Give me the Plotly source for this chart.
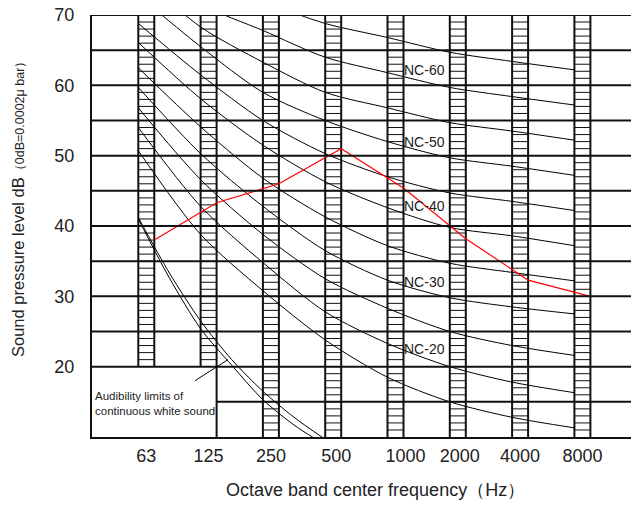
import plotly.graph_objects as go

# ---------------- data ----------------
bands = ["63", "125", "250", "500", "1000", "2000", "4000", "8000"]

# NC curve levels (dB) read at the left edge of each octave-band column
nc15 = [50.7, 38.8, 30.8, 23.8, 18.5, 15.0, 12.8, 11.3]
nc20 = [54.0, 42.8, 34.8, 27.8, 23.3, 20.0, 17.8, 16.3]
nc25 = [56.8, 46.6, 38.8, 32.5, 28.3, 25.0, 23.0, 21.6]
nc30 = [59.7, 50.3, 42.8, 36.5, 32.3, 29.8, 28.5, 27.5]
nc35 = [62.5, 54.1, 46.8, 41.3, 37.2, 34.7, 33.4, 32.2]
nc40 = [66.1, 58.1, 51.5, 46.3, 42.6, 39.8, 38.6, 37.2]
nc45 = [68.8, 61.5, 55.0, 50.3, 47.0, 44.7, 43.5, 42.2]
nc50 = [72.8, 65.5, 59.0, 55.0, 52.0, 49.7, 48.5, 47.2]
nc55 = [75.8, 68.3, 63.3, 59.0, 56.8, 54.7, 53.5, 52.2]
nc60 = [78.5, 71.6, 67.8, 64.0, 61.8, 59.7, 58.4, 57.2]
nc65 = [81.3, 76.3, 72.0, 68.8, 66.8, 64.7, 63.4, 62.2]

nc_label_text = ["NC-60", "NC-50", "NC-40", "NC-30", "NC-20"]
nc_label_level = [62.2, 52.0, 42.8, 32.0, 22.5]

# measured spectrum (red), one value per band
measured = [38.0, 43.3, 46.0, 51.0, 45.4, 38.2, 32.3, 30.0]

# audibility limits of continuous white sound (band position, dB)
aud_upper_pos = [0.0, 0.5, 1.0, 1.5, 2.0, 2.5, 2.97]
aud_upper = [41.2, 33.3, 26.5, 21.0, 16.5, 12.8, 9.85]
aud_lower_pos = [0.0, 0.5, 1.0, 1.5, 2.0, 2.5, 2.82]
aud_lower = [41.0, 32.6, 25.4, 20.2, 15.3, 11.7, 9.85]

y_ticks = [20, 30, 40, 50, 60, 70]

# ---------------- layout geometry ----------------
W, H = 631, 506
ML, MR, MT, MB = 92, 0, 15, 69
PX_PER_BAND = 62.3
FIRST_COL_PX = 138.3
COL_W = 16.0 / PX_PER_BAND
x_lo = -(FIRST_COL_PX - ML) / PX_PER_BAND
x_hi = x_lo + (W - ML - MR) / PX_PER_BAND
Y_LO, Y_HI = 10, 70
col_bottom = [20, 20, 10, 10, 10, 10, 10, 10]
tick_nudge_px = [0, 0, 0, 3, 10, 2, 0, 0]
INK = "#111111"
FONT = "Arial, Liberation Sans, sans-serif"

fig = go.Figure()

# hatched columns
hx, hy, bx, by = [], [], [], []
for i in range(len(bands)):
    for lvl in range(col_bottom[i] + 1, Y_HI):
        hx += [i, i + COL_W, None]
        hy += [lvl, lvl, None]
    for edge in (i, i + COL_W):
        bx += [edge, edge, None]
        by += [col_bottom[i], Y_HI, None]
fig.add_trace(go.Scatter(x=hx, y=hy, mode="lines", line=dict(color=INK, width=1),
                         hoverinfo="skip", showlegend=False))
fig.add_trace(go.Scatter(x=bx, y=by, mode="lines", line=dict(color=INK, width=2),
                         hoverinfo="skip", showlegend=False))

# NC curves
band_pos = list(range(len(bands)))
for curve in [nc15, nc20, nc25, nc30, nc35, nc40, nc45, nc50, nc55, nc60, nc65]:
    fig.add_trace(go.Scatter(x=band_pos, y=curve, mode="lines",
                             line=dict(color="black", width=1, shape="spline", smoothing=0.8),
                             hoverinfo="skip", showlegend=False))

# audibility limits
for px_, vals in [(aud_upper_pos, aud_upper), (aud_lower_pos, aud_lower)]:
    fig.add_trace(go.Scatter(x=px_, y=vals, mode="lines",
                             line=dict(color="black", width=1, shape="spline", smoothing=0.8),
                             hoverinfo="skip", showlegend=False))

# measured spectrum
fig.add_trace(go.Scatter(x=[i + COL_W for i in band_pos], y=measured, mode="lines",
                         line=dict(color="#ff0000", width=1.2),
                         hoverinfo="skip", showlegend=False))

# grid lines
shapes = []
for lvl in range(20, 71, 5):
    shapes.append(dict(type="line", xref="paper", yref="y", x0=0, x1=1, y0=lvl, y1=lvl,
                       line=dict(color=INK, width=2), layer="above"))
shapes.append(dict(type="line", xref="x", yref="y", x0=1 + COL_W, x1=x_hi, y0=15, y1=15,
                   line=dict(color=INK, width=2), layer="above"))
shapes.append(dict(type="line", xref="x", yref="y", x0=1 + COL_W, x1=1 + COL_W, y0=10, y1=20,
                   line=dict(color=INK, width=2), layer="above"))
# pointer of the audibility note
shapes.append(dict(type="line", xref="x", yref="y", x0=0.91, x1=1.44, y0=18.0, y1=21.0,
                   line=dict(color="black", width=1)))

annotations = []
for txt, lvl in zip(nc_label_text, nc_label_level):
    annotations.append(dict(x=4.6, y=lvl, xref="x", yref="y", text=txt, showarrow=False,
                            font=dict(family=FONT, size=14, color="#222222")))
annotations.append(dict(x=0.002, y=14.7, xref="paper", yref="y", xanchor="left", yanchor="middle",
                        align="left", showarrow=False,
                        text="Audibility limits of<br>continuous white sound",
                        font=dict(family=FONT, size=11.5, color="#222222")))
annotations.append(dict(x=(18 - ML) / (W - ML - MR), y=(H - MB - 206) / (H - MT - MB),
                        xref="paper", yref="paper", textangle=-90, showarrow=False,
                        xanchor="center", yanchor="middle",
                        text="Sound pressure level dB<span style='font-size:12.5px'>（0dB=0.0002μ bar）</span>",
                        font=dict(family=FONT, size=16.5, color="#222222")))
annotations.append(dict(x=(375 - ML) / (W - ML - MR), y=(H - MB - 490) / (H - MT - MB),
                        xref="paper", yref="paper", showarrow=False,
                        xanchor="center", yanchor="middle",
                        text="Octave band center frequency（Hz）",
                        font=dict(family=FONT, size=18, color="#222222")))

fig.update_layout(
    width=W, height=H, autosize=False,
    margin=dict(l=ML, r=MR, t=MT, b=MB, pad=0),
    paper_bgcolor="white", plot_bgcolor="white",
    shapes=shapes, annotations=annotations, showlegend=False,
    xaxis=dict(range=[x_lo, x_hi], showgrid=False, zeroline=False,
               showline=True, linecolor=INK, linewidth=2,
               tickmode="array",
               tickvals=[i + COL_W / 2 + n / PX_PER_BAND for i, n in zip(band_pos, tick_nudge_px)],
               ticktext=bands,
               ticks="", ticklabelstandoff=1,
               tickfont=dict(family=FONT, size=18, color="#222222")),
    yaxis=dict(range=[Y_LO, Y_HI], showgrid=False, zeroline=False,
               showline=True, linecolor=INK, linewidth=2,
               tickmode="array", tickvals=y_ticks, ticks="", ticklabelstandoff=12,
               tickfont=dict(family=FONT, size=18, color="#222222")),
)

fig.write_html("out.html", config={"displayModeBar": False},
               post_script="document.body.style.margin='0';document.body.style.overflow='hidden';")
